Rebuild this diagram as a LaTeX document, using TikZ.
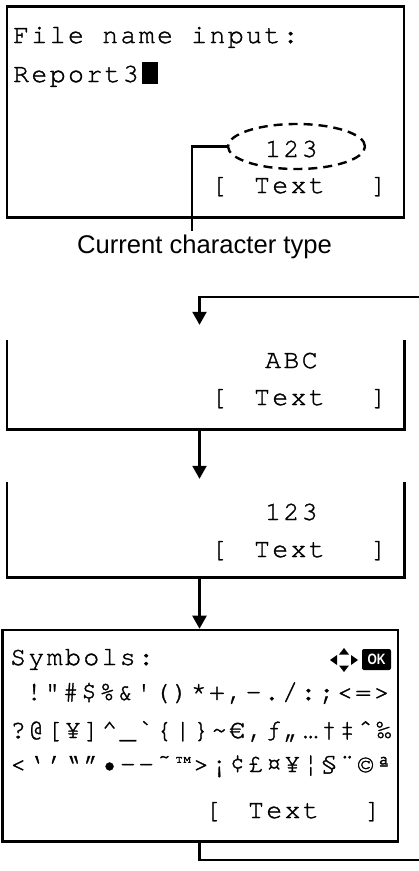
\documentclass[tikz,border=0pt]{standalone}
\usepackage{fontspec}
\setmainfont{Liberation Sans}
\newfontfamily\lcdfont[LetterSpace=9, FakeBold=1.2]{texgyrecursor-regular.otf}
\usetikzlibrary{arrows.meta,shapes.geometric}

\newcommand\softkey{[\hspace{27pt}Text\hspace{46pt}]}

\begin{document}
\begin{tikzpicture}[x=1pt, y=-1pt,
    lcd/.style={font=\lcdfont\fontsize{26.5}{26.5}\selectfont, inner sep=0pt, anchor=base west},
    screen/.style={draw, line width=2.6pt, inner sep=0pt},
    flow/.style={line width=2.4pt, -{Triangle[length=13pt,width=14pt]}},
    lead/.style={line width=2.4pt}]
    \useasboundingbox (0,0) rectangle (419,871);
    \coordinate (spine) at (199.5,0);
    \coordinate (loopin) at (419,297);
    \coordinate (loopout) at (419,860);
    % file name entry screen
    \node[screen, minimum width=397pt, minimum height=211pt] (scr1) at (205.5,112) {};
    \node[lcd] (title) at (13,43) {File name input:};
    \node[lcd] (name) at (13,82) {Report3};
    \node[fill, inner sep=0pt, minimum width=16pt, minimum height=22pt, anchor=south west] (cursor) at (142,84) {};
    \node[lcd] (mode1) at (265,157) {123};
    \node[lcd] (soft1) at (211,193) {\softkey};
    \node[ellipse, draw, line width=2.4pt, dash pattern=on 9pt off 6pt, minimum width=137pt, minimum height=45pt] (oval) at (296.5,146.5) {};
    \node[font=\fontsize{25.6}{25.6}\selectfont, inner sep=3pt, anchor=base] (typelbl) at (204.5,253) {Current character type};
    \coordinate (bend) at (192,148);
    \draw[lead] (oval.west) -- (oval.west -| bend) -- (typelbl.north -| bend);
    % ABC
    \node[inner sep=0pt, minimum width=397pt, minimum height=89pt] (scr2) at (205.5,384.5) {};
    \draw[line width=2.6pt] (scr2.north west) -- (scr2.south west) -- (scr2.south east) -- (scr2.north east);
    \node[lcd] (mode2) at (265,368) {ABC};
    \node[lcd] (soft2) at (211,405) {\softkey};
    \draw[flow, shorten >=15pt] (loopin) -| (scr2.north -| spine);
    % 123
    \node[inner sep=0pt, minimum width=397pt, minimum height=95.5pt] (scr3) at (205.5,529.75) {};
    \draw[line width=2.6pt] (scr3.north west) -- (scr3.south west) -- (scr3.south east) -- (scr3.north east);
    \node[lcd] (mode3) at (265,520) {123};
    \node[lcd] (soft3) at (211,557) {\softkey};
    \draw[flow, shorten >=3pt] (scr2.south -| spine) -- (scr3.north -| spine);
    % symbols
    \node[screen, minimum width=395.5pt, minimum height=211.5pt] (scr4) at (200.25,735.75) {};
    \node[lcd] (symtitle) at (10,665) {Symbols:};
    \fill (330,660) -- (337,655) -- (337,665) -- cycle;
    \fill (358,660) -- (351,655) -- (351,665) -- cycle;
    \fill (344,648) -- (339,654.5) -- (349,654.5) -- cycle;
    \fill (344,672) -- (339,665.5) -- (349,665.5) -- cycle;
    \node[fill, rounded corners=2pt, minimum width=29pt, minimum height=21pt, inner sep=0pt, text=white, font=\bfseries\fontsize{15}{15}\selectfont] (okkey) at (376.5,659.5) {\scalebox{0.8}[1]{OK}};
    \node[lcd] (row1) at (26,700) {!"\#\$\%\&'()*+,-./:;<=>};
    \node[lcd] (row2) at (10,738) {?@[¥]\textasciicircum\_`\{|\}\textasciitilde€‚ƒ„…†‡ˆ‰};
    \node[lcd] (row3) at (10,772) {<‘’“”•–—˜™>¡¢£¤¥¦§¨©ª};
    \node[lcd] (soft4) at (205,818) {\softkey};
    \draw[flow] (scr3.south -| spine) -- (scr4.north -| spine);
    \draw[lead] (scr4.south -| spine) |- (loopout);
\end{tikzpicture}
\end{document}
